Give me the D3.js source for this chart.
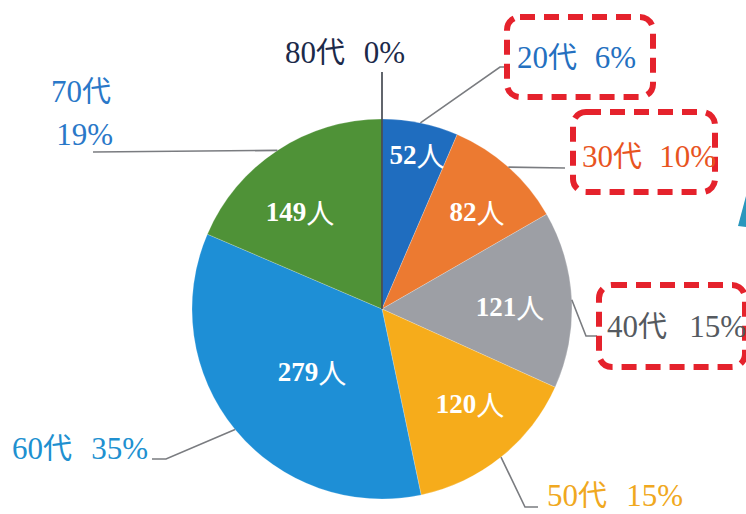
<!DOCTYPE html>
<html><head><meta charset="utf-8">
<script src="https://cdn.jsdelivr.net/npm/d3@7/dist/d3.min.js"></script>
<style>
html,body{margin:0;padding:0;background:#fff;}
svg{display:block;}
</style></head>
<body>
<svg id="c" width="746" height="514"></svg>
<script>
// ---- data ----
const categories = ["20代","30代","40代","50代","60代","70代","80代"];
const counts     = [52, 82, 121, 120, 279, 149, 0];
const percents   = ["6%","10%","15%","15%","35%","19%","0%"];
const countUnit  = "人";

// ---- style / layout ----
const sliceColors = ["#1f6dbf","#ec7a31","#9d9fa5","#f6ac1b","#1e8fd6","#4f9237","#1c2a4a"];
const labelColors = ["#2470c0","#e8541e","#555a60","#f0a820","#2090d0","#2a78c8","#1c2a4a"];
const cx = 382, cy = 309, R = 190;
const serif = "'Liberation Serif','Noto Sans CJK JP',serif";

const svg = d3.select("#c");
const g = svg.append("g").attr("transform", `translate(${cx},${cy})`);

const pie = d3.pie().sort(null).value(d => d).startAngle(0).endAngle(2*Math.PI);
const arcs = pie(counts);
const arc = d3.arc().innerRadius(0).outerRadius(R);
const edge = d3.arc().innerRadius(R).outerRadius(R);

g.selectAll("path.slice").data(arcs).enter().append("path")
  .attr("class","slice")
  .attr("d", arc)
  .attr("fill", (d,i) => sliceColors[i])
  .attr("stroke", "rgba(255,255,255,0.35)")
  .attr("stroke-width", 0.6);

// inside count labels (best-fit positions, page coords)
const inPos = {"20代":[417,155],"30代":[477,212],"40代":[510,307],"50代":[470,404],"60代":[312,372],"70代":[300,212]};
arcs.forEach((d,i) => {
  if (!counts[i]) return;
  const p = inPos[categories[i]];
  const t = svg.append("text")
    .attr("x", p[0]).attr("y", p[1])
    .attr("text-anchor","middle").attr("dominant-baseline","central")
    .attr("font-family", serif).attr("font-weight","bold")
    .attr("font-size", 27).attr("fill","#fff");
  t.append("tspan").text(counts[i]);
  t.append("tspan").attr("font-family","'Noto Sans CJK JP'").attr("font-weight","normal").attr("font-size",28).text(countUnit);
});

// leader lines: start on the arc edge at slice middle, then elbow/end (page coords)
const leaders = {
  "20代": [[500,67],[508,67]],
  "30代": [[565,168]],
  "40代": [[586,336],[597,336]],
  "50代": [[525,507],[538,507]],
  "60代": [[166,459],[152,459]],
  "70代": [[93,152]]
};
const line = d3.line();
arcs.forEach((d,i) => {
  const cat = categories[i];
  let pts;
  if (cat === "80代") {
    pts = [[cx, 72],[cx, cy]];
  } else {
    const c = edge.centroid(d);
    pts = [[cx + c[0], cy + c[1]], ...leaders[cat]];
  }
  svg.append("path").attr("d", line(pts))
    .attr("fill","none")
    .attr("stroke", cat === "80代" ? "#3a3f48" : "#7a7c80")
    .attr("stroke-width", 1.6);
});

// red dashed highlight boxes
const boxes = [
  {x:507, y:17, w:146, h:80},
  {x:573, y:112, w:142, h:80},
  {x:599, y:285, w:146, h:82}
];
svg.selectAll("rect.hl").data(boxes).enter().append("rect")
  .attr("class","hl")
  .attr("x", d => d.x).attr("y", d => d.y)
  .attr("width", d => d.w).attr("height", d => d.h)
  .attr("rx", 13).attr("ry", 13)
  .attr("fill","none").attr("stroke","#e5222c")
  .attr("stroke-width", 6).attr("stroke-dasharray","15,9");

// outside category labels: name part left-aligned, percent part right-aligned
const outPos = {
  "80代": {l:285, r:405, y:63},
  "20代": {l:517, r:636, y:68},
  "30代": {l:582, r:716, y:167},
  "40代": {l:607, r:746, y:337},
  "50代": {l:547, r:683, y:506},
  "60代": {l:12,  r:148, y:459}
};
function catText(sel, cat) {
  const m = cat.match(/^(\d+)(.*)$/);
  sel.append("tspan").attr("font-family", serif).attr("font-size", 31).text(m[1]);
  sel.append("tspan").attr("font-family","'Noto Sans CJK JP'").attr("font-weight",400).attr("font-size", 29).text(m[2]);
}
categories.forEach((cat,i) => {
  const col = labelColors[i];
  if (cat === "70代") {
    const t1 = svg.append("text").attr("x",111).attr("y",102).attr("text-anchor","end").attr("fill", col);
    catText(t1, cat);
    svg.append("text").attr("x",113).attr("y",145).attr("text-anchor","end").attr("fill", col)
      .attr("font-family", serif).attr("font-size", 31).text(percents[i]);
    return;
  }
  const p = outPos[cat];
  const t1 = svg.append("text").attr("x", p.l).attr("y", p.y).attr("fill", col);
  catText(t1, cat);
  svg.append("text").attr("x", p.r).attr("y", p.y).attr("text-anchor","end").attr("fill", col)
    .attr("font-family", serif).attr("font-size", 31).text(percents[i]);
});

// partial teal arrow shape at right edge
svg.append("path").attr("d","M738,226L746,196L746,227Z").attr("fill","#2a97bd");
</script>
</body></html>
